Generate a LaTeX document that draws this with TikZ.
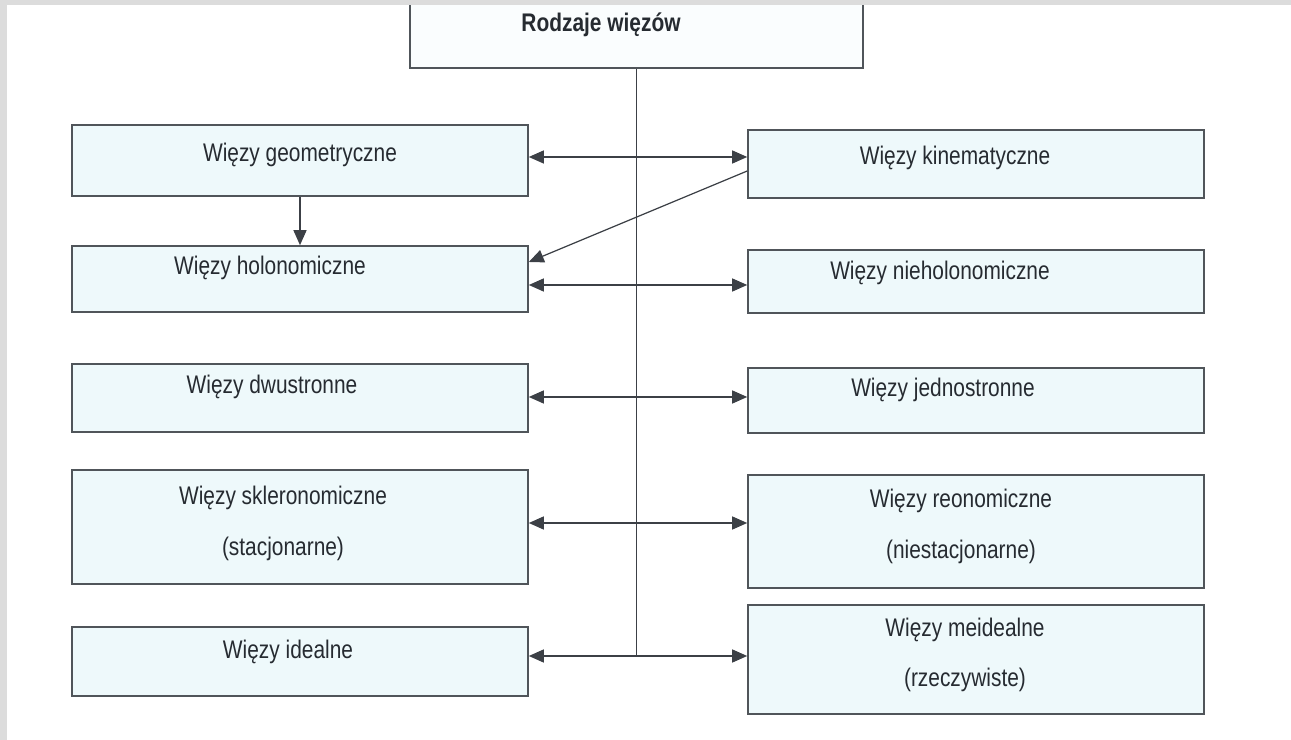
\documentclass[tikz,border=0pt]{standalone}
\usepackage{fontspec}
\setmainfont{Liberation Sans}[FakeStretch=0.82]
\usetikzlibrary{arrows.meta}
\definecolor{boxfill}{HTML}{EEF9FB}
\definecolor{boxline}{HTML}{50555A}
\definecolor{inkgray}{HTML}{262B31}
\definecolor{framegray}{HTML}{DCDCDC}
\tikzset{
  box/.style={draw=boxline, line width=0.9pt, fill=boxfill, minimum width=9.12cm, inner sep=0pt},
  lbl/.style={text=inkgray, font=\fontsize{14.5}{17}\selectfont, inner sep=1pt},
  link/.style={draw=inkgray!90, line width=0.7pt},
  arr/.style={link, -{Triangle[length=3mm,width=2.6mm]}}
}
\begin{document}
\begin{tikzpicture}
  \useasboundingbox (0,0) rectangle (25.82,14.8);

  % Root
  \node[box, fill=boxfill!30, minimum width=9.06cm, minimum height=1.6cm] (root) at (12.73,14.24) {};
  \node[lbl] (rootT) at (12.02,14.3) {\bfseries Rodzaje więzów};

  % Left column
  \node[box, minimum height=1.42cm] (geo) at (6.0,11.59) {};
  \node[box, minimum height=1.32cm] (hol) at (6.0,9.22) {};
  \node[box, minimum height=1.36cm] (dwu) at (6.0,6.84) {};
  \node[box, minimum height=2.28cm] (skl) at (6.0,4.26) {};
  \node[box, minimum height=1.38cm] (ide) at (6.0,1.57) {};

  % Right column
  \node[box, minimum height=1.36cm] (kin) at (19.52,11.52) {};
  \node[box, minimum height=1.26cm] (nieh) at (19.52,9.17) {};
  \node[box, minimum height=1.30cm] (jedn) at (19.52,6.79) {};
  \node[box, minimum height=2.26cm] (reo) at (19.52,4.17) {};
  \node[box, minimum height=2.18cm] (mei) at (19.52,1.61) {};

  % Labels
  \node[lbl] (geoT) at (6.0,11.7) {Więzy geometryczne};
  \node[lbl] (kinT) at (19.1,11.64) {Więzy kinematyczne};
  \node[lbl] (holT) at (5.4,9.44) {Więzy holonomiczne};
  \node[lbl] (niehT) at (18.8,9.34) {Więzy nieholonomiczne};
  \node[lbl] (dwuT) at (5.44,7.06) {Więzy dwustronne};
  \node[lbl] (jednT) at (18.86,7.0) {Więzy jednostronne};
  \node[lbl, align=center] (sklT) at (5.66,4.34) {Więzy skleronomiczne\\[4.2mm](stacjonarne)};
  \node[lbl, align=center] (reoT) at (19.22,4.27) {Więzy reonomiczne\\[4.2mm](niestacjonarne)};
  \node[lbl] (ideT) at (5.76,1.76) {Więzy idealne};
  \node[lbl, align=center] (meiT) at (19.3,1.7) {Więzy meidealne\\[3.9mm](rzeczywiste)};

  % Spine and branches
  \coordinate (s1) at (root.south |- 0,11.66);
  \coordinate (s2) at (root.south |- 0,9.1);
  \coordinate (s3) at (root.south |- 0,6.86);
  \coordinate (s4) at (root.south |- 0,4.34);
  \coordinate (s5) at (root.south |- 0,1.68);
  \draw[link] (root.south) -- (s5);
  \foreach \s/\l/\r in {s1/geo/kin, s2/hol/nieh, s3/dwu/jedn, s4/skl/reo, s5/ide/mei}{
      \draw[arr] (\s) -- (\s -| \l.east);
      \draw[arr] (\s) -- (\s -| \r.west);
    }
  \draw[arr] (geo.south) -- (hol.north);
  \draw[arr] ([yshift=-1.4mm]kin.west) -- ([yshift=3.4mm]hol.east);

  % Frame
  \fill[framegray] (0,0) rectangle (0.14,14.8);
  \fill[framegray] (0,14.7) rectangle (25.82,14.8);
\end{tikzpicture}
\end{document}
